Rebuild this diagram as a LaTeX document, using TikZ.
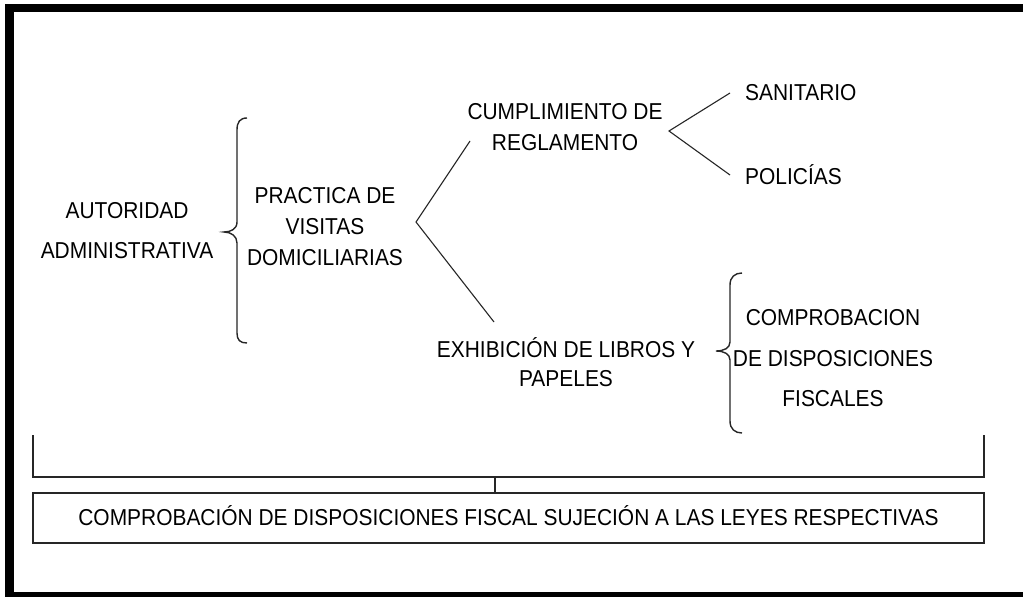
\documentclass[tikz,border=0pt]{standalone}
\usepackage{fontspec}
\setmainfont{Liberation Sans}[FakeStretch=0.91]
\begin{document}
\begin{tikzpicture}[x=1pt,y=-1pt,
  lbl/.style={inner sep=0pt, align=center},
  ln/.style={line width=1.1pt, draw=black!85},
  bracepath/.style={line width=1.4pt, draw=black!85},
  barline/.style={line width=1.8pt, draw=black!85}]
\useasboundingbox (0,0) rectangle (1023,597);
\fill[white] (0,0) rectangle (1023,597);
% outer frame (no right side visible)
\fill[black] (5,4) rectangle (14,597);
\fill[black] (5,4) rectangle (1023,12);
\fill[black] (5,592) rectangle (1023,597);

% texts
\node[lbl, font=\fontsize{23}{40}\selectfont] (auth) at (127,230.5) {AUTORIDAD\\ADMINISTRATIVA};
\node[lbl, font=\fontsize{23}{31}\selectfont] (pract) at (325,226.5) {PRACTICA DE\\VISITAS\\DOMICILIARIAS};
\node[lbl, font=\fontsize{23}{31}\selectfont] (cump) at (565,127) {CUMPLIMIENTO DE\\REGLAMENTO};
\node[lbl, font=\fontsize{23}{30}\selectfont, anchor=west] (sani) at (745,93) {SANITARIO};
\node[lbl, font=\fontsize{23}{30}\selectfont, anchor=west] (poli) at (745,175) {POLICÍAS};
\node[lbl, font=\fontsize{23}{29}\selectfont] (exhib) at (566,362) {EXHIBICIÓN DE LIBROS Y\\PAPELES};
\node[lbl, font=\fontsize{23}{40.5}\selectfont] (compro) at (833,358.5) {COMPROBACION\\DE DISPOSICIONES\\FISCALES};

% left brace
\draw[bracepath] (247,118) .. controls (240,118) and (237,122) .. (237,130) -- (237,222)
  .. controls (237,229) and (231,232) .. (224,232)
  .. controls (231,232) and (237,236) .. (237,243) -- (237,333)
  .. controls (237,340) and (240,343) .. (247,343);

% right brace
\draw[bracepath] (742,273) .. controls (735,273) and (730,277) .. (730,285) -- (730,342)
  .. controls (730,348) and (724,351) .. (716,351)
  .. controls (724,351) and (730,354) .. (730,360) -- (730,421)
  .. controls (730,429) and (735,433) .. (742,433);

% angle connectors
\coordinate (a0) at (416,222);
\coordinate (a1) at (470,141);
\coordinate (a2) at (494,322);
\draw[ln] (a1) -- (a0) -- (a2);
\coordinate (b0) at (669,131);
\coordinate (b1) at (730,93);
\coordinate (b2) at (730,175);
\draw[ln] (b1) -- (b0) -- (b2);

% bottom bracket and result box
\draw[barline] (33,435) -- (33,477) -- (984,477) -- (984,435);
\node[draw=black!85, line width=1.8pt, inner sep=0pt, minimum width=951pt, minimum height=50pt,
      font=\fontsize{23}{25}\selectfont] (res) at (508.5,518)
      {\raisebox{4pt}{COMPROBACIÓN DE DISPOSICIONES FISCAL SUJECIÓN A LAS LEYES RESPECTIVAS}};
\coordinate (stem) at (495,477);
\draw[ln, line width=1.3pt] (stem) -- (stem |- res.north);
\end{tikzpicture}
\end{document}
